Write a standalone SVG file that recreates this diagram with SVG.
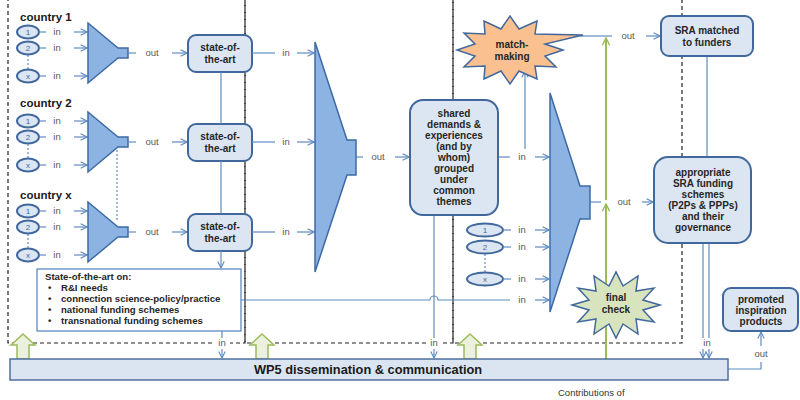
<svg xmlns="http://www.w3.org/2000/svg" width="800" height="400" viewBox="0 0 800 400">
<style>
.dash{fill:none;stroke:#222;stroke-width:1.2;stroke-dasharray:4,3}
.box{fill:#dce6f2;stroke:#41689d;stroke-width:2}
.fun{fill:#8db3e2;stroke:#3d6aa5;stroke-width:1.5}
.ell{fill:#dce6f2;stroke:#41689d;stroke-width:2}
.ln{fill:none;stroke:#5f8bc2;stroke-width:1.2}
.gl{fill:none;stroke:#9bbb59;stroke-width:2}
.ga{fill:#ebf1de;stroke:#9bbb59;stroke-width:1.5}
.dot{fill:none;stroke:#5f8bc2;stroke-width:1.2;stroke-dasharray:2,2}
.b{font-family:"Liberation Sans",Arial,sans-serif;font-weight:bold;font-size:10px;fill:#262626;text-anchor:middle}
.lb{font-family:"Liberation Sans",Arial,sans-serif;font-size:9.5px;fill:#595959;text-anchor:middle}
.n{font-family:"Liberation Sans",Arial,sans-serif;font-size:8px;fill:#41689d;text-anchor:middle}
.h{font-family:"Liberation Sans",Arial,sans-serif;font-weight:bold;font-size:11.5px;fill:#1a1a1a}
.s{font-family:"Liberation Sans",Arial,sans-serif;font-weight:bold;font-size:9.6px;fill:#262626}
</style>
<defs>
<marker id="a" viewBox="0 0 10 10" refX="9" refY="5" markerWidth="8" markerHeight="8" orient="auto" markerUnits="userSpaceOnUse"><path d="M1,1 L9,5 L1,9" fill="none" stroke="#5f8bc2" stroke-width="1.4"/></marker>
<marker id="g" viewBox="0 0 10 10" refX="9" refY="5" markerWidth="9" markerHeight="9" orient="auto" markerUnits="userSpaceOnUse"><path d="M1,1 L9,5 L1,9" fill="none" stroke="#9bbb59" stroke-width="1.6"/></marker>
<g id="countryRow">
  <ellipse class="ell" cx="28" cy="32" rx="11" ry="6.5"/><text class="n" x="28" y="35">1</text>
  <ellipse class="ell" cx="28" cy="48" rx="11" ry="6.5"/><text class="n" x="28" y="51">2</text>
  <ellipse class="ell" cx="28" cy="76" rx="11" ry="6.5"/><text class="n" x="28" y="79">x</text>
  <line class="dot" x1="28" y1="55" x2="28" y2="69"/>
  <line class="ln" x1="39" y1="32" x2="46" y2="32"/><text class="lb" x="57" y="35">in</text><line class="ln" x1="74" y1="32" x2="87" y2="32" marker-end="url(#a)"/>
  <line class="ln" x1="39" y1="48" x2="46" y2="48"/><text class="lb" x="57" y="51">in</text><line class="ln" x1="74" y1="48" x2="87" y2="48" marker-end="url(#a)"/>
  <line class="ln" x1="39" y1="76" x2="46" y2="76"/><text class="lb" x="57" y="79">in</text><line class="ln" x1="74" y1="76" x2="87" y2="76" marker-end="url(#a)"/>
  <polygon class="fun" points="88,23 118,48 128,48 128,58 118,58 88,83"/>
  <line class="ln" x1="128" y1="53" x2="136" y2="53"/><text class="lb" x="152" y="56">out</text><line class="ln" x1="172" y1="53" x2="187" y2="53" marker-end="url(#a)"/>
  <rect class="box" x="188" y="35" width="64" height="37" rx="8"/>
  <text class="b" x="220" y="51">state-of-</text><text class="b" x="220" y="63">the-art</text>
  <line class="ln" x1="252" y1="53" x2="275" y2="53"/><text class="lb" x="286" y="56">in</text><line class="ln" x1="297" y1="53" x2="314" y2="53" marker-end="url(#a)"/>
</g>
</defs>

<g id="frames">
  <rect class="dash" x="8" y="-10" width="237" height="353"/>
  <rect class="dash" x="245" y="-10" width="208" height="353"/>
  <rect class="dash" x="453" y="-10" width="229" height="353"/>
</g>

<g id="country1"><text class="h" x="20" y="21">country 1</text><use href="#countryRow"/></g>
<g id="country2"><text class="h" x="20" y="107">country 2</text><use href="#countryRow" transform="translate(0,89)"/></g>
<g id="countryx"><text class="h" x="20" y="199">country x</text><use href="#countryRow" transform="translate(0,179)"/></g>

<g id="connectors">
  <line class="ln" x1="221" y1="72" x2="221" y2="124"/>
  <line class="ln" x1="221" y1="161" x2="221" y2="214"/>
  <line class="ln" x1="221" y1="251" x2="221" y2="268" marker-end="url(#a)"/>
  <line class="dot" x1="117" y1="150" x2="117" y2="222"/>
  <line class="ln" x1="222" y1="331" x2="222" y2="338"/>
  <rect x="214" y="338" width="16" height="10" fill="#fff"/>
  <text class="lb" x="222" y="346">in</text>
  <line class="ln" x1="222" y1="349" x2="222" y2="358" marker-end="url(#a)"/>
  <path class="ln" d="M241,300 H430 A4,4 0 0 1 438,300 H510"/>
  <text class="lb" x="522" y="303">in</text>
  <line class="ln" x1="535" y1="300" x2="549" y2="300" marker-end="url(#a)"/>
  <line class="ln" x1="356" y1="157" x2="363" y2="157"/><text class="lb" x="378" y="160">out</text>
  <line class="ln" x1="395" y1="157" x2="409" y2="157" marker-end="url(#a)"/>
  <line class="ln" x1="434" y1="215" x2="434" y2="338"/>
  <rect x="426" y="338" width="16" height="10" fill="#fff"/>
  <text class="lb" x="434" y="346">in</text>
  <line class="ln" x1="434" y1="349" x2="434" y2="358" marker-end="url(#a)"/>
  <line class="ln" x1="498" y1="157" x2="510" y2="157"/><text class="lb" x="522" y="160">in</text>
  <line class="ln" x1="535" y1="157" x2="549" y2="157" marker-end="url(#a)"/>
  <line class="ln" x1="525" y1="149" x2="525" y2="71" marker-end="url(#a)"/>
  <line class="ln" x1="580" y1="36" x2="612" y2="36"/><text class="lb" x="628" y="39">out</text>
  <line class="ln" x1="646" y1="36" x2="660" y2="36" marker-end="url(#a)"/>
  <line class="ln" x1="590" y1="202" x2="601" y2="202"/><text class="lb" x="624" y="205">out</text>
  <line class="ln" x1="642" y1="202" x2="653" y2="202" marker-end="url(#a)"/>
  <line class="ln" x1="707" y1="56" x2="707" y2="157"/>
  <line class="ln" x1="703" y1="243" x2="703" y2="338"/>
  <line class="ln" x1="709" y1="243" x2="709" y2="338"/>
  <text class="lb" x="707" y="346">in</text>
  <line class="ln" x1="703" y1="349" x2="703" y2="358" marker-end="url(#a)"/>
  <line class="ln" x1="709" y1="349" x2="709" y2="358" marker-end="url(#a)"/>
  <path class="ln" d="M728,369 H761 V362"/>
  <text class="lb" x="761" y="357">out</text>
  <line class="ln" x1="761" y1="346" x2="761" y2="332" marker-end="url(#a)"/>
  <line class="gl" x1="606" y1="359" x2="606" y2="204" marker-end="url(#g)"/>
  <line class="gl" x1="606" y1="200" x2="606" y2="38" marker-end="url(#g)"/>
</g>

<g id="funnel-mid"><polygon class="fun" points="315,42 347,140 356,140 356,175 347,175 315,272"/></g>
<g id="funnel-right"><polygon class="fun" points="550,93 580,186 590,186 590,219 580,219 550,312"/></g>

<g id="summary">
  <rect x="37" y="269" width="204" height="62" fill="#fff" stroke="#5f8bc2" stroke-width="1.3"/>
  <text class="s" x="45" y="280">State-of-the-art on:</text>
  <text class="s" x="48" y="291">•</text><text class="s" x="61" y="291">R&amp;I needs</text>
  <text class="s" x="48" y="302">•</text><text class="s" x="61" y="302">connection science-policy/practice</text>
  <text class="s" x="48" y="313">•</text><text class="s" x="61" y="313">national funding schemes</text>
  <text class="s" x="48" y="324">•</text><text class="s" x="61" y="324">transnational  funding schemes</text>
</g>

<g id="shared">
  <rect class="box" x="410" y="100" width="88" height="115" rx="13"/>
  <text class="b" x="454" y="117">shared</text>
  <text class="b" x="454" y="128">demands &amp;</text>
  <text class="b" x="454" y="139">experiences</text>
  <text class="b" x="454" y="150">(and by</text>
  <text class="b" x="454" y="161">whom)</text>
  <text class="b" x="454" y="172">grouped</text>
  <text class="b" x="454" y="183">under</text>
  <text class="b" x="454" y="194">common</text>
  <text class="b" x="454" y="205">themes</text>
</g>

<g id="inputs3">
  <ellipse class="ell" cx="485" cy="230" rx="18" ry="6.5"/><text class="n" x="485" y="233">1</text>
  <ellipse class="ell" cx="485" cy="247" rx="18" ry="6.5"/><text class="n" x="485" y="250">2</text>
  <ellipse class="ell" cx="485" cy="279" rx="18" ry="6.5"/><text class="n" x="485" y="282">x</text>
  <line class="dot" x1="485" y1="254" x2="485" y2="272"/>
  <line class="ln" x1="503" y1="230" x2="511" y2="230"/><text class="lb" x="522" y="233">in</text><line class="ln" x1="535" y1="230" x2="549" y2="230" marker-end="url(#a)"/>
  <line class="ln" x1="503" y1="247" x2="511" y2="247"/><text class="lb" x="522" y="250">in</text><line class="ln" x1="535" y1="247" x2="549" y2="247" marker-end="url(#a)"/>
  <line class="ln" x1="503" y1="279" x2="511" y2="279"/><text class="lb" x="522" y="282">in</text><line class="ln" x1="535" y1="279" x2="549" y2="279" marker-end="url(#a)"/>
</g>

<g id="matchmaking">
  <polygon points="563,50 545,56 556,67 535,66 537,79 519,71 510,84 501,71 484,79 485,66 464,67 475,56 457,50 475,44 464,33 485,34 484,21 501,29 510,16 519,29 537,21 535,34 583,35 545,44" fill="#fac090" stroke="#41689d" stroke-width="1.5"/>
  <text class="b" x="512" y="48">match-</text><text class="b" x="512" y="60">making</text>
</g>

<g id="finalcheck">
  <polygon points="660,305 643,310 654,322 636,319 638,334 623,324 616,338 609,324 594,334 596,319 578,322 589,310 572,305 589,300 578,288 596,291 594,276 609,286 616,272 623,286 638,276 636,291 654,288 643,300" fill="#d7e4bd" stroke="#41689d" stroke-width="1.5"/>
  <text class="b" x="616" y="301">final</text><text class="b" x="616" y="313">check</text>
</g>

<g id="sra">
  <rect class="box" x="661" y="16" width="92" height="40" rx="8"/>
  <text class="b" x="707" y="34">SRA matched</text><text class="b" x="707" y="46">to funders</text>
</g>

<g id="appropriate">
  <rect class="box" x="654" y="157" width="97" height="86" rx="14"/>
  <text class="b" x="703" y="176">appropriate</text>
  <text class="b" x="703" y="187">SRA funding</text>
  <text class="b" x="703" y="198">schemes</text>
  <text class="b" x="703" y="209">(P2Ps  &amp; PPPs)</text>
  <text class="b" x="703" y="220">and their</text>
  <text class="b" x="703" y="231">governance</text>
</g>

<g id="promoted">
  <rect class="box" x="723" y="288" width="75" height="43" rx="8"/>
  <text class="b" x="761" y="303">promoted</text><text class="b" x="761" y="314">inspiration</text><text class="b" x="761" y="325">products</text>
</g>

<g id="greenarrows">
  <polygon class="ga" points="23,334 35,345 29,345 29,359 17,359 17,345 11,345"/>
  <polygon class="ga" points="262,334 274,345 268,345 268,359 256,359 256,345 250,345"/>
  <polygon class="ga" points="470,334 482,345 476,345 476,359 464,359 464,345 458,345"/>
</g>

<g id="wp5">
  <rect x="10" y="359" width="718" height="21" fill="#dbe5f1" stroke="#4f6fa0" stroke-width="1.5"/>
  <text class="b" x="368" y="374" style="font-size:12.8px;fill:#1a1a1a">WP5 dissemination &amp; communication</text>
</g>

<text x="558" y="396" style="font-family:'Liberation Sans',Arial,sans-serif;font-size:9.5px;fill:#333">Contributions of</text>
</svg>
